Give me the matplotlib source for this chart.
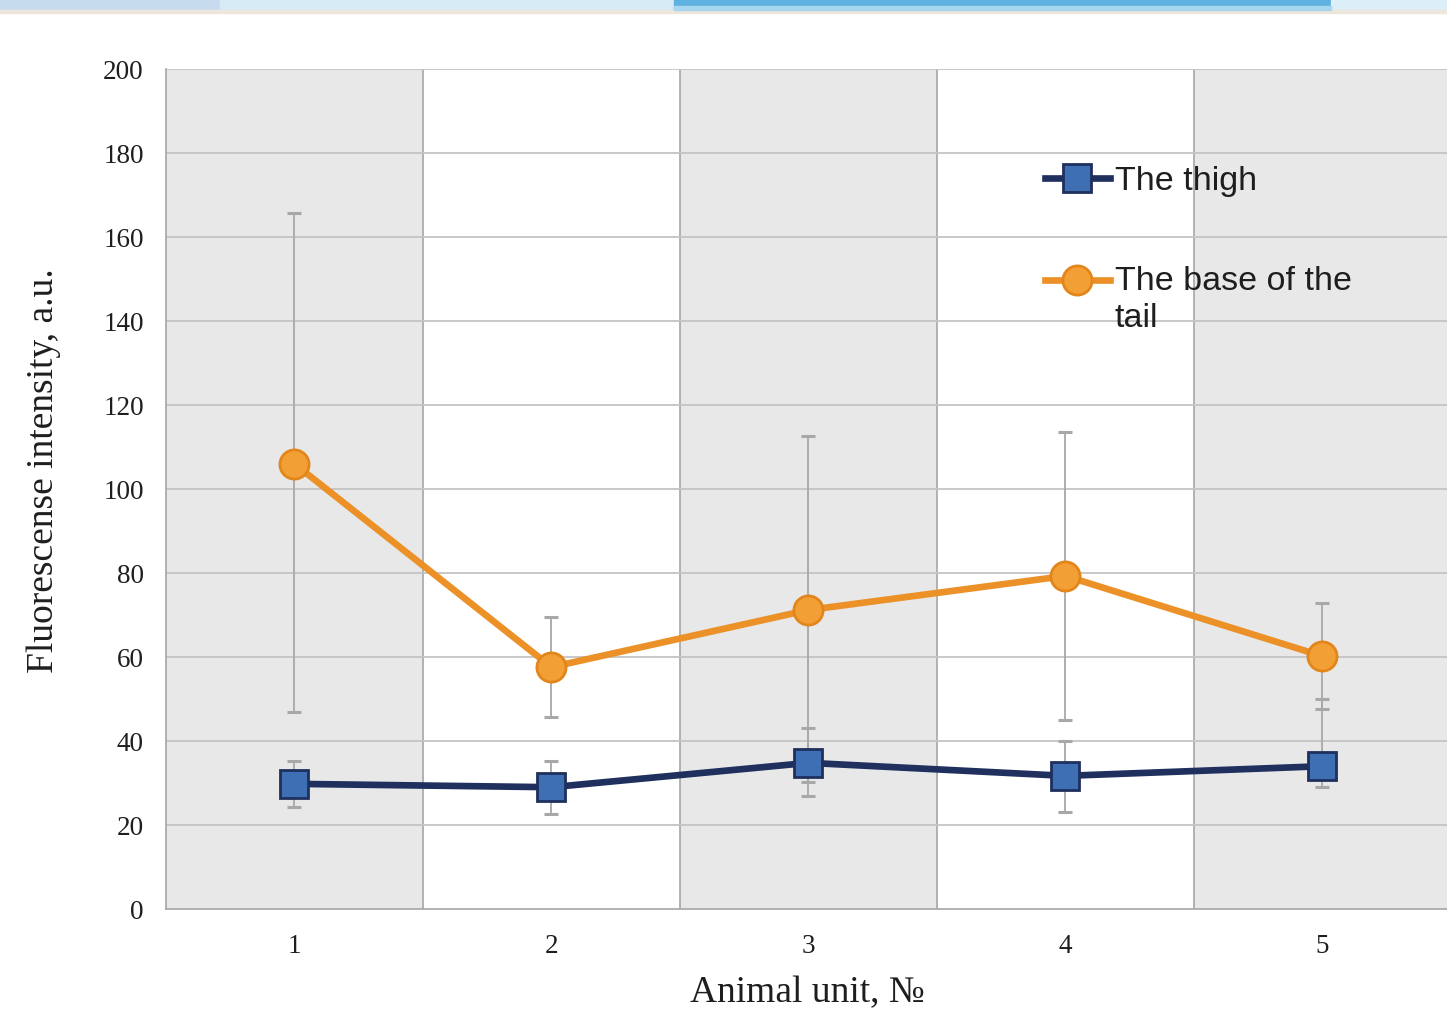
import matplotlib.pyplot as plt
import matplotlib.patches as mpatches
from matplotlib.lines import Line2D

# animal units and measured fluorescence (mean with error bar ends)
units = [1, 2, 3, 4, 5]
thigh = [29.8, 29.0, 34.8, 31.7, 34.0]
thigh_err_low = [5.5, 6.3, 8.0, 8.5, 5.0]
thigh_err_high = [5.5, 6.3, 8.3, 8.3, 16.0]
tail = [106.0, 57.6, 71.2, 79.3, 60.2]
tail_err_low = [59.0, 12.0, 41.0, 34.3, 12.5]
tail_err_high = [59.6, 12.0, 41.4, 34.3, 12.7]
y_ticks = [0, 20, 40, 60, 80, 100, 120, 140, 160, 180, 200]

navy = "#1f2f5e"
square_fill = "#3f6fb3"
orange = "#eb9128"
circle_fill = "#f2a035"
text_col = "#1e1e1e"

fig = plt.figure(figsize=(14.47, 10.09), dpi=100)

# banner strip along the top edge
banner = [(0.0, 0.152, "#c7dbef"), (0.152, 0.466, "#d6ebf6"),
          (0.466, 0.92, "#5fb2e0"), (0.92, 1.0, "#dceff8")]
for x0, x1, col in banner:
    fig.patches.append(mpatches.Rectangle((x0, 0.990), x1 - x0, 0.010,
                                          transform=fig.transFigure,
                                          color=col, zorder=0))
fig.patches.append(mpatches.Rectangle((0.466, 0.990), 0.454, 0.004,
                                      transform=fig.transFigure,
                                      color="#a9d6ef", zorder=1))
fig.patches.append(mpatches.Rectangle((0, 0.987), 1, 0.003,
                                      transform=fig.transFigure,
                                      color="#ece6dc", zorder=0))

ax = fig.add_axes([0.1147, 0.0991, 0.888, 0.8325])
ax.set_xlim(0.5, 5.5)
ax.set_ylim(0, 200)

# alternating shaded columns
for u in units:
    if u % 2 == 1:
        ax.axvspan(u - 0.5, u + 0.5, color="#e8e8e8", zorder=0, lw=0)
for u in units[:-1]:
    ax.axvline(u + 0.5, color="#a6a6a6", lw=1.2, zorder=1)
for t in y_ticks[1:]:
    ax.axhline(t, color="#c4c4c4", lw=1.3, zorder=1)

for vals, lo, hi in [(tail, tail_err_low, tail_err_high),
                     (thigh, thigh_err_low, thigh_err_high)]:
    eb = ax.errorbar(units, vals, yerr=[lo, hi], fmt="none",
                     ecolor="#a8a8a8", elinewidth=1.3, capsize=5,
                     capthick=2.2, zorder=2)
    for cap in eb[1]:
        cap.set_color("#5a5a5a")

ax.plot(units, tail, color=orange, lw=4.8, marker="o", markersize=21,
        markerfacecolor=circle_fill, markeredgecolor="#e2861c",
        markeredgewidth=2, zorder=3)
ax.plot(units, thigh, color=navy, lw=4.8, marker="s", markersize=19.5,
        markerfacecolor=square_fill, markeredgecolor=navy,
        markeredgewidth=2, zorder=4)

# legend drawn in axes fraction
ax.add_line(Line2D([0.684, 0.7346], [0.870, 0.870], color=navy, lw=4.8,
                   transform=ax.transAxes, zorder=5))
ax.add_line(Line2D([0.709], [0.870], marker="s", markersize=19.5,
                   markerfacecolor=square_fill, markeredgecolor=navy,
                   markeredgewidth=2, transform=ax.transAxes, zorder=6))
ax.add_line(Line2D([0.684, 0.7346], [0.749, 0.749], color=orange, lw=4.8,
                   transform=ax.transAxes, zorder=5))
ax.add_line(Line2D([0.709], [0.749], marker="o", markersize=21,
                   markerfacecolor=circle_fill, markeredgecolor="#e2861c",
                   markeredgewidth=2, transform=ax.transAxes, zorder=6))
ax.text(0.7385, 0.866, "The thigh", transform=ax.transAxes, va="center",
        ha="left", fontsize=24.5, family="Liberation Sans", color=text_col,
        zorder=6)
ax.text(0.7385, 0.766, "The base of the\ntail", transform=ax.transAxes,
        va="top", ha="left", fontsize=24.5, family="Liberation Sans",
        color=text_col, linespacing=1.25, zorder=6)

ax.set_xticks(units)
ax.set_yticks(y_ticks)
ax.tick_params(axis="y", length=0, pad=16, labelsize=19.5, labelcolor=text_col)
ax.tick_params(axis="x", length=0, pad=18, labelsize=19.5, labelcolor=text_col)
for lab in ax.get_xticklabels() + ax.get_yticklabels():
    lab.set_family("Liberation Serif")

for side in ["top", "right"]:
    ax.spines[side].set_visible(False)
ax.spines["left"].set_color("#a6a6a6")
ax.spines["bottom"].set_color("#a6a6a6")
ax.spines["left"].set_linewidth(1.2)
ax.spines["bottom"].set_linewidth(1.2)

ax.set_xlabel("Animal unit, №", fontsize=27, family="Liberation Serif",
              color=text_col)
ax.set_ylabel("Fluorescense intensity, a.u.", fontsize=27,
              family="Liberation Serif", color=text_col)
ax.xaxis.set_label_coords(0.499, -0.079)
ax.yaxis.set_label_coords(-0.082, 0.522)

fig.savefig("out.png", dpi=100)
